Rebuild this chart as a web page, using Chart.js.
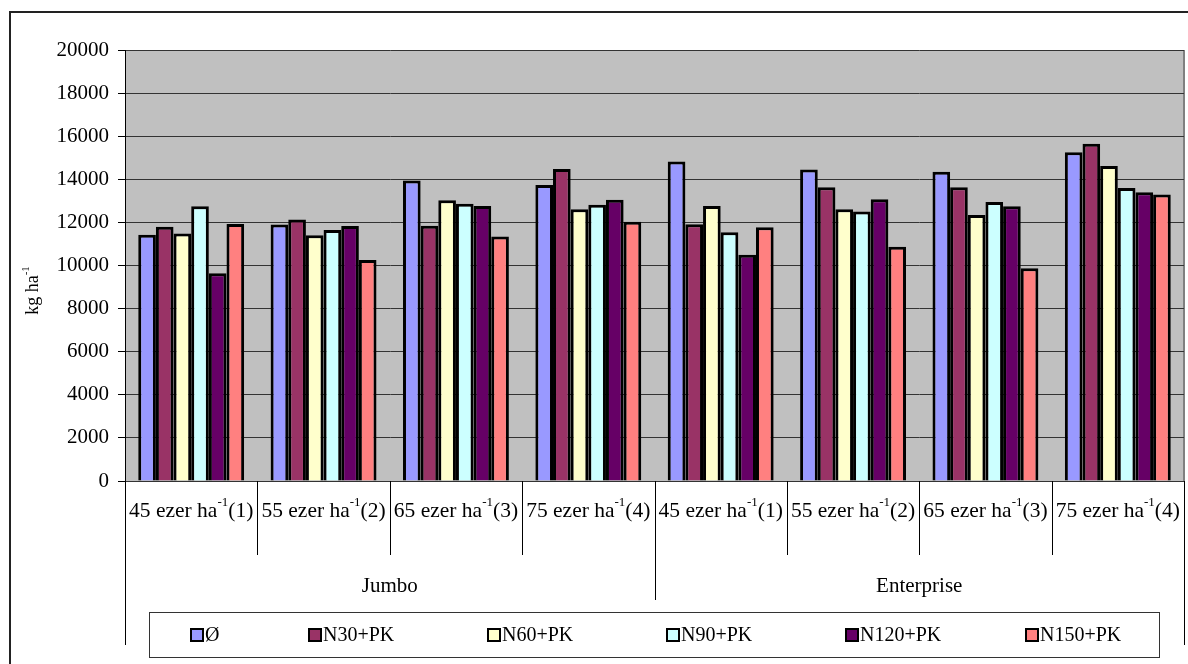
<!DOCTYPE html>
<html>
<head>
<meta charset="utf-8">
<script src="https://cdn.jsdelivr.net/npm/chart.js@4/dist/chart.umd.min.js"></script>
<style>
html,body{margin:0;padding:0;background:#fff;}
#wrap{width:1188px;height:664px;position:relative;}
</style>
</head>
<body>
<div id="wrap"><canvas id="c" width="1188" height="664"></canvas></div>
<script>
// ---- data ----
const categories = ['45 ezer ha⁻¹(1)','55 ezer ha⁻¹(2)','65 ezer ha⁻¹(3)','75 ezer ha⁻¹(4)',
                    '45 ezer ha⁻¹(1)','55 ezer ha⁻¹(2)','65 ezer ha⁻¹(3)','75 ezer ha⁻¹(4)'];
const groups = ['Jumbo','Enterprise'];
const seriesNames = ['Ø','N30+PK','N60+PK','N90+PK','N120+PK','N150+PK'];
const s0   = [11430, 11900, 13940, 13740, 14830, 14450, 14350, 15250];
const s30  = [11800, 12140, 11850, 14480, 11910, 13630, 13630, 15650];
const s60  = [11490, 11400, 13030, 12610, 12760, 12610, 12340, 14620];
const s90  = [12750, 11650, 12870, 12820, 11540, 12510, 12950, 13600];
const s120 = [9640, 11830, 12760, 13050, 10500, 13070, 12750, 13400];
const s150 = [11930, 10250, 11350, 12030, 11770, 10870, 9870, 13290];
const yTitle = 'kg ha⁻¹';
const yMin = 0, yMax = 20000, yStep = 2000;

const colors = ['#9999FF','#993366','#FFFFCC','#CCFFFF','#660066','#FF8080'];
const seriesValues = [s0, s30, s60, s90, s120, s150];
const FONT = "'Liberation Serif','Times New Roman',serif";

// draw text with a "⁻¹" superscript part
function drawSupText(ctx, text, cx, cy, size, align) {
  const parts = text.split('⁻¹');
  const sup = parts.length > 1 ? '-1' : '';
  const pre = parts[0], post = parts.length > 1 ? parts[1] : '';
  const supSize = Math.round(size * 0.62);
  ctx.font = size + 'px ' + FONT;
  const wPre = ctx.measureText(pre).width;
  const wPost = ctx.measureText(post).width;
  ctx.font = supSize + 'px ' + FONT;
  const wSup = ctx.measureText(sup).width;
  const total = wPre + wSup + wPost;
  let x = align === 'left' ? cx : cx - total / 2;
  ctx.textBaseline = 'middle';
  ctx.textAlign = 'left';
  ctx.fillStyle = '#000';
  ctx.font = size + 'px ' + FONT;
  ctx.fillText(pre, x, cy);
  x += wPre;
  ctx.font = supSize + 'px ' + FONT;
  ctx.fillText(sup, x, cy - size * 0.38);
  x += wSup;
  ctx.font = size + 'px ' + FONT;
  ctx.fillText(post, x, cy);
}

const decor = {
  id: 'decor',
  beforeDraw(chart) {
    const {ctx, chartArea: a} = chart;
    ctx.save();
    ctx.fillStyle = '#fff';
    ctx.fillRect(0, 0, chart.width, chart.height);
    ctx.fillStyle = '#C0C0C0';
    ctx.fillRect(a.left, a.top, a.right - a.left, a.bottom - a.top);
    ctx.strokeStyle = '#808080';
    ctx.lineWidth = 2;
    ctx.beginPath();
    ctx.moveTo(a.right, a.top); ctx.lineTo(a.right, a.bottom);
    ctx.stroke();
    ctx.restore();
  },
  afterDraw(chart) {
    const {ctx, chartArea: a} = chart;
    const xs = chart.scales.x;
    ctx.save();
    // outer frame
    ctx.strokeStyle = '#222';
    ctx.lineWidth = 2;
    ctx.beginPath();
    ctx.moveTo(10, chart.height); ctx.lineTo(10, 12); ctx.lineTo(chart.width, 12);
    ctx.stroke();
    // category separators
    const n = categories.length;
    const step = (a.right - a.left) / n;
    ctx.strokeStyle = '#000';
    ctx.lineWidth = 1;
    for (let i = 0; i <= n; i++) {
      const x = Math.round(a.left + i * step) + 0.5;
      let bottom = 555;
      if (i === 0 || i === n) bottom = 645;
      else if (i === n / 2) bottom = 600;
      ctx.beginPath();
      ctx.moveTo(x, a.bottom); ctx.lineTo(x, bottom);
      ctx.stroke();
    }
    // category labels
    for (let i = 0; i < n; i++) {
      const cx = xs.getPixelForValue(i);
      drawSupText(ctx, categories[i], cx, 511, 21.5, 'center');
    }
    // group labels
    const per = n / groups.length;
    groups.forEach((g, gi) => {
      const x0 = a.left + gi * per * step, x1 = x0 + per * step;
      ctx.font = '21px ' + FONT;
      ctx.fillStyle = '#000';
      ctx.textAlign = 'center';
      ctx.textBaseline = 'middle';
      ctx.fillText(g, (x0 + x1) / 2, 586);
    });
    // y-axis title (rotated)
    ctx.save();
    ctx.translate(33, (a.top + a.bottom) / 2 + 25);
    ctx.rotate(-Math.PI / 2);
    drawSupText(ctx, yTitle, 0, 0, 18, 'center');
    ctx.restore();
    // legend
    ctx.strokeStyle = '#333';
    ctx.lineWidth = 1;
    ctx.strokeRect(149.5, 612.5, 1010, 45);
    const legendX = [191, 309, 488, 667, 846, 1026];
    chart.data.datasets.forEach((ds, i) => {
      const x = legendX[i], y = 629;
      ctx.fillStyle = ds.backgroundColor;
      ctx.fillRect(x, y, 12, 12);
      ctx.strokeStyle = '#000';
      ctx.lineWidth = 2;
      ctx.strokeRect(x, y, 12, 12);
      ctx.fillStyle = '#000';
      ctx.font = '20px ' + FONT;
      ctx.textAlign = 'left';
      ctx.textBaseline = 'middle';
      ctx.fillText(ds.label, x + 14, y + 7);
    });
    ctx.restore();
  }
};

new Chart(document.getElementById('c'), {
  type: 'bar',
  data: {
    labels: categories,
    datasets: seriesNames.map((name, i) => ({
      label: name,
      data: seriesValues[i],
      backgroundColor: colors[i],
      borderColor: '#000',
      borderWidth: 3,
      barPercentage: 1.0,
      categoryPercentage: 0.8
    }))
  },
  options: {
    responsive: false,
    animation: false,
    devicePixelRatio: 1,
    layout: {padding: {top: 50, right: 4, bottom: 0, left: 0}},
    plugins: {legend: {display: false}, tooltip: {enabled: false}},
    scales: {
      x: {
        grid: {display: false},
        border: {display: false},
        ticks: {display: false},
        afterFit(scale) { scale.height = 183; }
      },
      y: {
        min: yMin, max: yMax,
        ticks: {stepSize: yStep, color: '#000', padding: 9, font: {family: FONT, size: 21},
                callback: (v) => String(v)},
        grid: {color: '#333', lineWidth: 1, tickLength: 7, tickColor: '#000'},
        border: {color: '#000', width: 1},
        afterFit(scale) { scale.width = 125; }
      }
    }
  },
  plugins: [decor]
});
</script>
</body>
</html>
